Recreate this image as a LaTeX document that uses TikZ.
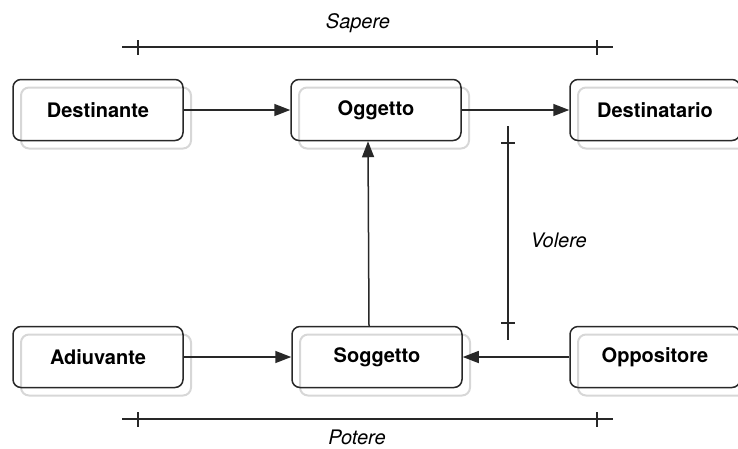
\documentclass[tikz,border=0pt]{standalone}
\usepackage{fontspec}
\setmainfont{TeX Gyre Heros}
\usetikzlibrary{arrows.meta}
\definecolor{boxline}{RGB}{40,40,40}
\definecolor{shadowgray}{RGB}{215,215,215}

\begin{document}
\begin{tikzpicture}[x=1pt, y=-1pt,
    actant/.style={draw=boxline, line width=1.5pt, rounded corners=8pt,
        minimum width=170pt, minimum height=61pt, inner sep=0pt,
        font=\fontsize{20}{23}\selectfont\bfseries,
        preaction={draw=shadowgray, line width=2pt, transform canvas={shift={(8pt,-8pt)}}}},
    link/.style={-{Triangle[length=16pt,width=12pt]}, line width=1.5pt, boxline},
    axis/.style={line width=2pt, boxline},
    axislabel/.style={font=\fontsize{20}{23}\selectfont\itshape}]
    \useasboundingbox (0,0) rectangle (738,448);

    % Actants
    \node[actant] (dest)  at (98,110)  {Destinante};
    \node[actant] (ogg)   at (376,110) {Oggetto};
    \node[actant] (destr) at (655,110) {Destinatario};
    \node[actant] (adiu)  at (98,357)  {Adiuvante};
    \node[actant] (sog)   at (377,357) {Soggetto};
    \node[actant] (opp)   at (655,357) {Oppositore};

    % Links
    \draw[link] (dest) -- (ogg);
    \draw[link] (ogg) -- (destr);
    \draw[link] ([xshift=-8pt]sog.north) -- ([xshift=-8pt]ogg.south);
    \draw[link] (adiu) -- (sog);
    \draw[link] (opp) -- (sog);

    % Sapere
    \draw[axis] (122,47) -- (613,47);
    \draw[axis] (138,40) -- (138,55);
    \draw[axis] (597,40) -- (597,55);
    \node[axislabel] (sapere) at (358,23) {Sapere};

    % Potere
    \draw[axis] (122,419) -- (613,419);
    \draw[axis] (138,412) -- (138,427);
    \draw[axis] (597,412) -- (597,427);
    \node[axislabel] (potere) at (357,437) {Potere};

    % Volere
    \draw[axis] (508,126) -- (508,340);
    \draw[axis] (501,143) -- (515,143);
    \draw[axis] (501,323) -- (515,323);
    \node[axislabel, anchor=west] (volere) at (527,240) {Volere};
\end{tikzpicture}
\end{document}
